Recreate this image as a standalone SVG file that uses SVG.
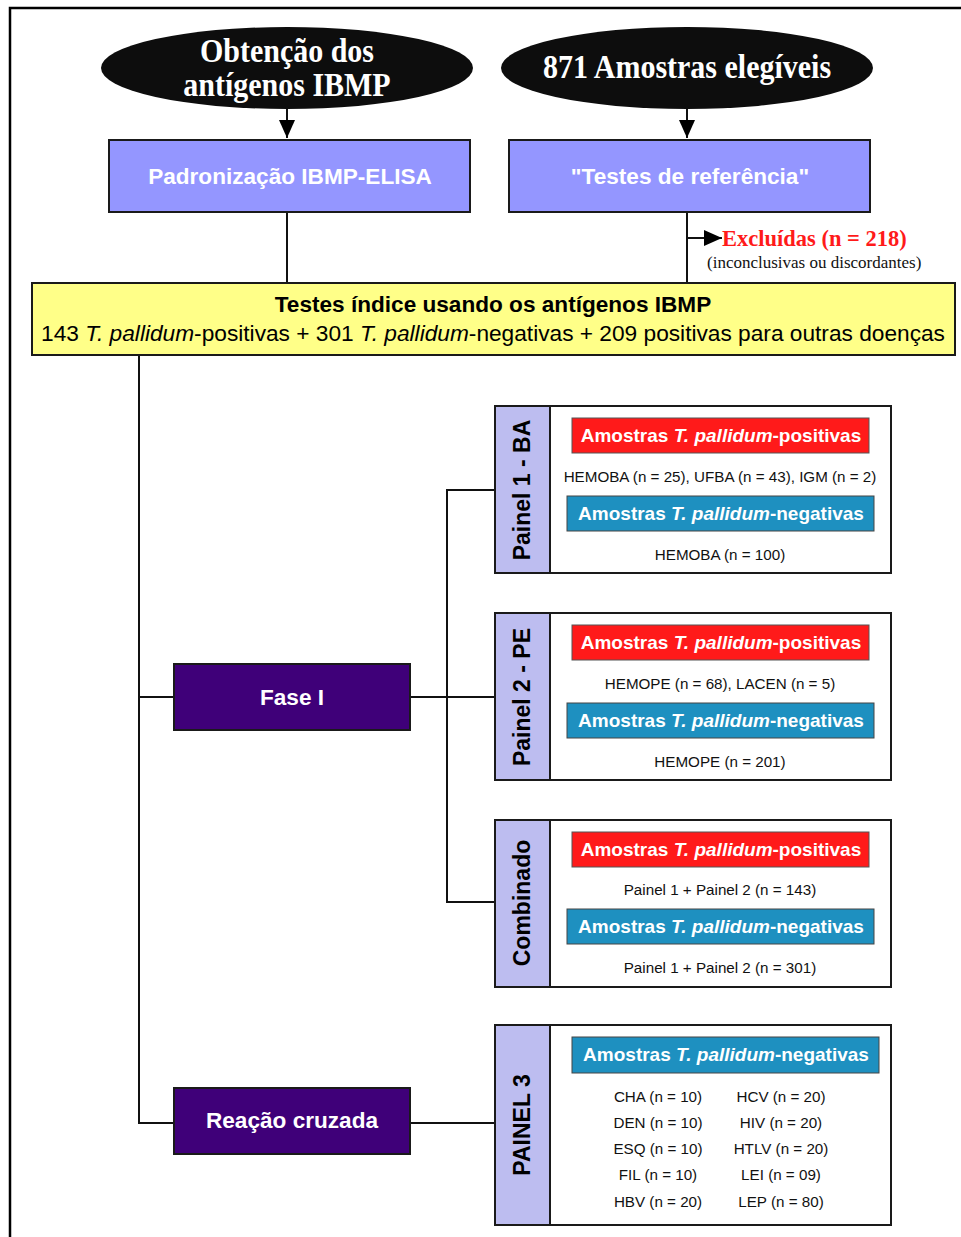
<svg xmlns="http://www.w3.org/2000/svg" width="961" height="1237" viewBox="0 0 961 1237">
  <defs>
    <marker id="arrowBig" viewBox="0 0 10 10" refX="10" refY="5" markerWidth="18" markerHeight="16" markerUnits="userSpaceOnUse" orient="auto" preserveAspectRatio="none">
      <path d="M0,0 L10,5 L0,10 z" fill="#000"/>
    </marker>
  </defs>
  <style>
    .sans { font-family: "Liberation Sans", Arial, sans-serif; }
    .serif { font-family: "Liberation Serif", "Times New Roman", serif; }
    .oval { fill: #0d0d0d; }
    .ovalText { font-family: "Liberation Serif", "Times New Roman", serif; font-weight: bold; font-size: 30px; fill: #fff; text-anchor: middle; }
    .step { fill: #9496ff; stroke: #1a1a1a; stroke-width: 2; }
    .stepText { font-family: "Liberation Sans", Arial, sans-serif; font-weight: bold; font-size: 22.6px; fill: #fff; text-anchor: middle; dominant-baseline: central; }
    .index { fill: #ffff88; stroke: #1a1a1a; stroke-width: 2; }
    .phase { fill: #3f0079; stroke: #1a1a1a; stroke-width: 2; }
    .panel { fill: #fff; stroke: #1a1a1a; stroke-width: 2; }
    .strip { fill: #bdbdf0; stroke: #1a1a1a; stroke-width: 2; }
    .stripText { font-family: "Liberation Sans", Arial, sans-serif; font-weight: bold; font-size: 23px; fill: #000; text-anchor: middle; dominant-baseline: central; }
    .pos { fill: #ff1a1a; stroke: #555; stroke-width: 1; }
    .neg { fill: #1e90c0; stroke: #444; stroke-width: 1; }
    .tagText { font-family: "Liberation Sans", Arial, sans-serif; font-weight: bold; font-size: 19px; fill: #fff; text-anchor: middle; dominant-baseline: central; }
    .small { font-family: "Liberation Sans", Arial, sans-serif; font-size: 15.2px; fill: #111; text-anchor: middle; dominant-baseline: central; }
    .wire { fill: none; stroke: #111; stroke-width: 2; }
  </style>

  <!-- outer frame -->
  <path d="M10,1237 V8 H961" fill="none" stroke="#000" stroke-width="2.5"/>

  <!-- connectors -->
  <g id="connectors">
    <line class="wire" x1="287" y1="108" x2="287" y2="138" marker-end="url(#arrowBig)"/>
    <line class="wire" x1="687" y1="108" x2="687" y2="138" marker-end="url(#arrowBig)"/>
    <line class="wire" x1="287" y1="212" x2="287" y2="283"/>
    <line class="wire" x1="687" y1="212" x2="687" y2="283"/>
    <line class="wire" x1="687" y1="238" x2="722" y2="238" marker-end="url(#arrowBig)"/>
    <path class="wire" d="M139,355 V1123 H174"/>
    <line class="wire" x1="139" y1="697" x2="174" y2="697"/>
    <line class="wire" x1="410" y1="697" x2="495" y2="697"/>
    <path class="wire" d="M495,490 H447 V902 H495"/>
    <line class="wire" x1="410" y1="1123" x2="495" y2="1123"/>
  </g>

  <!-- top ovals -->
  <g id="obtencao">
    <ellipse class="oval" cx="287" cy="68" rx="186" ry="41"/>
    <text class="ovalText" transform="translate(287,62) scale(1,1.1)">Obtenção dos</text>
    <text class="ovalText" transform="translate(287,96) scale(1,1.1)">antígenos IBMP</text>
  </g>
  <g id="amostras-elegiveis">
    <ellipse class="oval" cx="687" cy="68" rx="186" ry="41"/>
    <text class="ovalText" transform="translate(687,78) scale(1,1.1)">871 Amostras elegíveis</text>
  </g>

  <!-- second row -->
  <g id="padronizacao">
    <rect class="step" x="109" y="140" width="361" height="72"/>
    <text class="stepText" x="290" y="176">Padronização IBMP-ELISA</text>
  </g>
  <g id="testes-referencia">
    <rect class="step" x="509" y="140" width="361" height="72"/>
    <text class="stepText" x="690" y="176">"Testes de referência"</text>
  </g>

  <!-- excluded samples note -->
  <g id="excluidas">
    <text class="serif" x="722" y="246" font-size="22.5" font-weight="bold" fill="#ff1a1a">Excluídas (n = 218)</text>
    <text class="serif" x="707" y="268" font-size="17" fill="#111">(inconclusivas ou discordantes)</text>
  </g>

  <!-- index tests -->
  <g id="testes-indice">
    <rect class="index" x="32" y="283" width="923" height="72"/>
    <text class="sans" x="493" y="312" font-size="22.6" font-weight="bold" text-anchor="middle" fill="#000">Testes índice usando os antígenos IBMP</text>
    <text class="sans" x="493" y="341" font-size="22.7" text-anchor="middle" fill="#000">143 <tspan font-style="italic">T. pallidum</tspan>-positivas + 301 <tspan font-style="italic">T. pallidum</tspan>-negativas + 209 positivas para outras doenças</text>
  </g>

  <!-- phases -->
  <g id="fase-i">
    <rect class="phase" x="174" y="664" width="236" height="66"/>
    <text class="stepText" x="292" y="697">Fase I</text>
  </g>
  <g id="reacao-cruzada">
    <rect class="phase" x="174" y="1088" width="236" height="66"/>
    <text class="stepText" x="292" y="1120">Reação cruzada</text>
  </g>

  <!-- panel 1 -->
  <g id="painel-1">
    <rect class="panel" x="495" y="406" width="396" height="167"/>
    <rect class="strip" x="495" y="406" width="55" height="167"/>
    <text class="stripText" transform="translate(522,490) rotate(-90)">Painel 1 - BA</text>
    <rect class="pos" x="572" y="418" width="297" height="35"/>
    <text class="tagText" x="721" y="435">Amostras <tspan font-style="italic">T. pallidum</tspan>-positivas</text>
    <text class="small" x="720" y="476">HEMOBA (n = 25), UFBA (n = 43), IGM (n = 2)</text>
    <rect class="neg" x="567" y="496" width="307" height="35"/>
    <text class="tagText" x="721" y="513">Amostras <tspan font-style="italic">T. pallidum</tspan>-negativas</text>
    <text class="small" x="720" y="554">HEMOBA (n = 100)</text>
  </g>

  <!-- panel 2 -->
  <g id="painel-2">
    <rect class="panel" x="495" y="613" width="396" height="167"/>
    <rect class="strip" x="495" y="613" width="55" height="167"/>
    <text class="stripText" transform="translate(522,697) rotate(-90)">Painel 2 - PE</text>
    <rect class="pos" x="572" y="625" width="297" height="35"/>
    <text class="tagText" x="721" y="642">Amostras <tspan font-style="italic">T. pallidum</tspan>-positivas</text>
    <text class="small" x="720" y="683">HEMOPE (n = 68), LACEN (n = 5)</text>
    <rect class="neg" x="567" y="703" width="307" height="35"/>
    <text class="tagText" x="721" y="720">Amostras <tspan font-style="italic">T. pallidum</tspan>-negativas</text>
    <text class="small" x="720" y="761">HEMOPE (n = 201)</text>
  </g>

  <!-- combined panel -->
  <g id="combinado">
    <rect class="panel" x="495" y="820" width="396" height="167"/>
    <rect class="strip" x="495" y="820" width="55" height="167"/>
    <text class="stripText" transform="translate(522,903) rotate(-90)">Combinado</text>
    <rect class="pos" x="572" y="832" width="297" height="35"/>
    <text class="tagText" x="721" y="849">Amostras <tspan font-style="italic">T. pallidum</tspan>-positivas</text>
    <text class="small" x="720" y="889">Painel 1 + Painel 2 (n = 143)</text>
    <rect class="neg" x="567" y="909" width="307" height="35"/>
    <text class="tagText" x="721" y="926">Amostras <tspan font-style="italic">T. pallidum</tspan>-negativas</text>
    <text class="small" x="720" y="967">Painel 1 + Painel 2 (n = 301)</text>
  </g>

  <!-- panel 3 -->
  <g id="painel-3">
    <rect class="panel" x="495" y="1025" width="396" height="200"/>
    <rect class="strip" x="495" y="1025" width="55" height="200"/>
    <text class="stripText" transform="translate(522,1125) rotate(-90)">PAINEL 3</text>
    <rect class="neg" x="572" y="1037" width="307" height="36"/>
    <text class="tagText" x="726" y="1054">Amostras <tspan font-style="italic">T. pallidum</tspan>-negativas</text>
    <text class="small" x="658" y="1096">CHA (n = 10)</text>
    <text class="small" x="658" y="1122">DEN (n = 10)</text>
    <text class="small" x="658" y="1148">ESQ (n = 10)</text>
    <text class="small" x="658" y="1174">FIL (n = 10)</text>
    <text class="small" x="658" y="1201">HBV (n = 20)</text>
    <text class="small" x="781" y="1096">HCV (n = 20)</text>
    <text class="small" x="781" y="1122">HIV (n = 20)</text>
    <text class="small" x="781" y="1148">HTLV (n = 20)</text>
    <text class="small" x="781" y="1174">LEI (n = 09)</text>
    <text class="small" x="781" y="1201">LEP (n = 80)</text>
  </g>
</svg>
